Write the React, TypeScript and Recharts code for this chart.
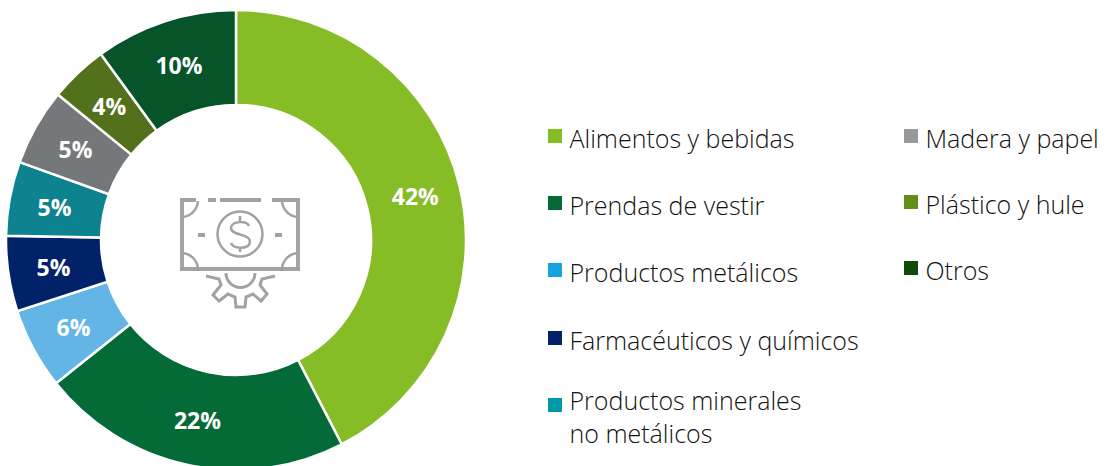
import { PieChart, Pie, Legend } from 'recharts';

const categories = [
  'Alimentos y bebidas',
  'Prendas de vestir',
  'Productos metálicos',
  'Farmacéuticos y químicos',
  'Productos minerales\nno metálicos',
  'Madera y papel',
  'Plástico y hule',
  'Otros',
];
const shares = [42.4, 21.9, 5.7, 5.3, 5.2, 5.4, 4.1, 10];
const sliceColors = ['#86BC25', '#046A38', '#62B5E5', '#012169', '#0D8390', '#75787B', '#53711A', '#07532A'];
const legendColors = ['#86BC25', '#046A38', '#17A2E0', '#012169', '#0097A9', '#97999B', '#658D1B', '#0F4A0A'];

const data = categories.map((name, i) => ({ name, value: shares[i], fill: sliceColors[i] }));

const FONT = '"Open Sans", sans-serif';
const RAD = Math.PI / 180;
const ICON = '#A2A2A2';

const renderLabel = ({ cx, cy, midAngle, innerRadius, outerRadius, value }: any) => {
  const r = (innerRadius + outerRadius) / 2 + 2;
  const x = cx + r * Math.cos(-midAngle * RAD);
  const y = cy + r * Math.sin(-midAngle * RAD);
  return (
    <text x={x} y={y} fill="#fff" textAnchor="middle" dominantBaseline="central"
      style={{ fontFamily: FONT, fontSize: 23, fontWeight: 700 }}>
      {Math.round(value)}%
    </text>
  );
};

// two columns, first five categories on the left
const LegendBlock = ({ payload }: any) => (
  <div style={{ position: 'relative', width: 1106, height: 466, fontFamily: FONT, fontSize: 25, fontWeight: 300, color: '#111' }}>
    {(payload || []).map((entry: any, i: number) => {
      const left = i < 5 ? 548 : 904;
      const rowTop = i < 5 ? 129 + i * 67.2 : 129 + (i - 5) * 66;
      const twoLines = String(entry.value).includes('\n');
      return (
        <div key={i}>
          <div style={{ position: 'absolute', left, top: rowTop, width: 14, height: 14, background: legendColors[i] }} />
          <div style={{
            position: 'absolute', left: left + 21.5, top: twoLines ? rowTop - 14 : rowTop - 7, lineHeight: '33px',
            whiteSpace: 'pre', textAlign: 'left',
          }}>
            {entry.value}
          </div>
        </div>
      );
    })}
  </div>
);

const CashGearIcon = () => (
  <g fill="none" stroke={ICON} strokeWidth={4}>
    <path d="M196 200H182V269H298V200H272" />
    <path d="M208 200H216M220 200H261" />
    <path d="M182 217A17 17 0 0 0 198 201M298 217A17 17 0 0 1 282 201M182 253A17 17 0 0 1 198 268M298 253A17 17 0 0 0 282 268" strokeWidth={2.5} />
    <circle cx={240} cy={234} r={22.5} strokeWidth={2.5} />
    <path d="M249 226C247 221 232 220 231 228C231 236 250 233 250 242C249 250 233 249 231 243M240 216V221M240 247V252" strokeWidth={2.5} />
    <path d="M198 235H205M275 235H282" />
    <path d="M206 276L219 279L221 285L213 295L219 301L228 294L235 297L236 307L245 307L246 297L253 294L261 301L267 294L260 285L262 279L275 276" strokeWidth={3} />
    <path d="M226 273A14.5 14.5 0 0 0 255 273" strokeWidth={3} />
  </g>
);

const App = () => (
  <div style={{ position: 'absolute', left: 0, top: 0, width: 1106, height: 466 }}>
    <PieChart width={1106} height={466} margin={{ top: 0, right: 0, bottom: 0, left: 0 }}>
      <Pie
        data={data}
        dataKey="value"
        nameKey="name"
        cx={236}
        cy={240}
        innerRadius={135}
        outerRadius={230}
        startAngle={90}
        endAngle={-270}
        stroke="#fff"
        strokeWidth={2.5}
        label={renderLabel}
        labelLine={false}
        isAnimationActive={false}
      />
      <Legend
        itemSorter={null}
        content={<LegendBlock />}
        wrapperStyle={{ position: 'absolute', left: 0, top: 0, width: 1106, height: 466, bottom: 'auto' }}
      />
      <CashGearIcon />
    </PieChart>
  </div>
);

export default App;
